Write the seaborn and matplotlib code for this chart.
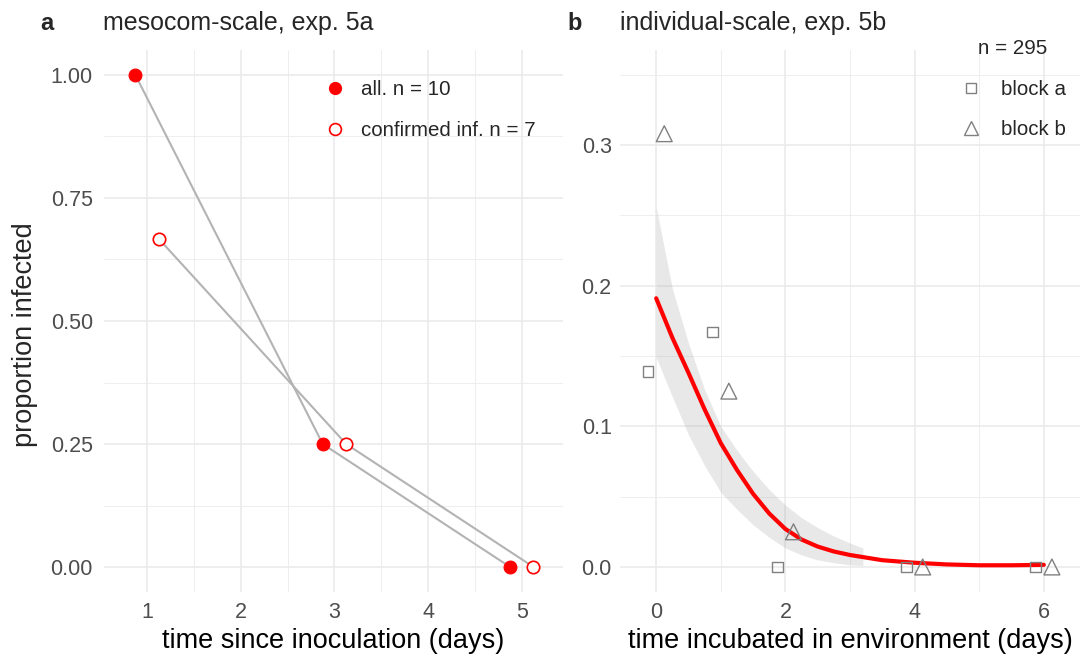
import pandas as pd
import seaborn as sns
import matplotlib.pyplot as plt
from matplotlib.lines import Line2D
from matplotlib.ticker import MultipleLocator

sns.set_theme(style="whitegrid")
plt.rcParams['font.family'] = ['Liberation Sans', 'DejaVu Sans']

######################## data, panel a ########################
days_a = [1, 3, 5]
prop_all = [1.0, 0.25, 0.0]
prop_conf = [0.667, 0.25, 0.0]
labels_a = ["all. n = 10", "confirmed inf. n = 7"]

######################## data, panel b ########################
days_b = [0, 1, 2, 4, 6]
prop_block_a = [0.139, 0.167, 0.0, 0.0, 0.0]
prop_block_b = [0.308, 0.125, 0.025, 0.0, 0.0]
labels_b = ["block a", "block b"]

# fitted curve and its confidence band
fit_x = [0, 0.25, 0.5, 0.75, 1, 1.25, 1.5, 1.75, 2, 2.25, 2.5, 2.75, 3, 3.5, 4, 4.5, 5, 5.5, 6]
fit_y = [0.191, 0.163, 0.138, 0.112, 0.088, 0.069, 0.052, 0.038, 0.027, 0.0195, 0.0145, 0.011,
         0.0085, 0.0048, 0.003, 0.0018, 0.0012, 0.0012, 0.0015]
band_x = [0, 0.25, 0.5, 0.75, 1, 1.25, 1.5, 1.75, 2, 2.25, 2.5, 2.75, 3, 3.2]
band_lo = [0.149, 0.121, 0.094, 0.072, 0.053, 0.041, 0.030, 0.021, 0.0135, 0.0085, 0.005, 0.003,
           0.0015, 0.001]
band_hi = [0.256, 0.198, 0.159, 0.126, 0.100, 0.083, 0.068, 0.055, 0.044, 0.035, 0.028, 0.022,
           0.017, 0.0135]

dodge = 0.125
RED = "#ff0000"
GREY_PT = "#808080"

df_a = pd.DataFrame({
    "day": [d - dodge for d in days_a] + [d + dodge for d in days_a],
    "prop": prop_all + prop_conf,
    "group": [labels_a[0]] * 3 + [labels_a[1]] * 3,
})
df_b = pd.DataFrame({
    "day": [d - dodge for d in days_b] + [d + dodge for d in days_b],
    "prop": prop_block_a + prop_block_b,
    "block": [labels_b[0]] * 5 + [labels_b[1]] * 5,
})
df_fit = pd.DataFrame({"day": fit_x, "fit": fit_y})

W, H = 1080, 658
fig = plt.figure(figsize=(W / 100, H / 100), dpi=100)
fig.patch.set_facecolor("white")


def px_axes(x0, y0, x1, y1):
    return fig.add_axes([x0 / W, 1 - y1 / H, (x1 - x0) / W, (y1 - y0) / H])


def style_axes(ax):
    ax.set_facecolor("white")
    for s in ax.spines.values():
        s.set_visible(False)
    ax.grid(True, which="major", color="#ebebeb", linewidth=1.2)
    ax.grid(True, which="minor", color="#ebebeb", linewidth=0.6)
    ax.tick_params(which="both", length=0, labelsize=15.5, labelcolor="#4d4d4d")
    ax.set_axisbelow(True)


ax1 = px_axes(104, 50, 563, 592)
ax2 = px_axes(620, 50, 1080, 592)

######################## panel a ########################
style_axes(ax1)
sns.lineplot(data=df_a, x="day", y="prop", units="group", estimator=None,
             color="#b3b3b3", linewidth=1.5, ax=ax1, zorder=2)
sns.scatterplot(data=df_a[df_a.group == labels_a[0]], x="day", y="prop", ax=ax1,
                color=RED, edgecolor=RED, s=85, linewidth=0.8, zorder=3)
sns.scatterplot(data=df_a[df_a.group == labels_a[1]], x="day", y="prop", ax=ax1,
                marker="o", facecolors="white", edgecolor=RED, s=80, linewidth=1.2, zorder=3)
ax1.set_xlim(0.54, 5.44)
ax1.set_ylim(-0.0508, 1.0508)
ax1.xaxis.set_major_locator(MultipleLocator(1))
ax1.xaxis.set_minor_locator(MultipleLocator(0.5))
ax1.yaxis.set_major_locator(MultipleLocator(0.25))
ax1.yaxis.set_minor_locator(MultipleLocator(0.125))
ax1.yaxis.set_major_formatter(plt.FormatStrFormatter("%.2f"))
ax1.tick_params(axis="y", pad=8)
ax1.tick_params(axis="x", pad=7)
ax1.set_xlabel("time since inoculation (days)", fontsize=19.5, color="black", labelpad=4)
ax1.set_ylabel("")
h_a = [Line2D([], [], marker="o", linestyle="none", markersize=8.5, color=RED),
       Line2D([], [], marker="o", linestyle="none", markersize=8.5, markerfacecolor="white",
              markeredgecolor=RED, markeredgewidth=1.2)]
ax1.legend(h_a, labels_a, frameon=False, fontsize=14.8, loc="upper left",
           bbox_to_anchor=(312 / W, 1 - 70 / H), bbox_transform=fig.transFigure,
           handletextpad=0.7, labelspacing=1.05, handlelength=1.2, borderpad=0)

######################## panel b ########################
style_axes(ax2)
ax2.fill_between(band_x, band_lo, band_hi, color="#999999", alpha=0.22, linewidth=0, zorder=1)
sns.lineplot(data=df_fit, x="day", y="fit", color=RED, linewidth=3, ax=ax2, zorder=2)
sns.scatterplot(data=df_b[df_b.block == labels_b[0]], x="day", y="prop", ax=ax2,
                marker="s", facecolors="none", edgecolor=GREY_PT, s=60, linewidth=1.0, zorder=3)
sns.scatterplot(data=df_b[df_b.block == labels_b[1]], x="day", y="prop", ax=ax2,
                marker="^", facecolors="none", edgecolor=GREY_PT, s=130, linewidth=1.0, zorder=3)
ax2.set_xlim(-0.56, 6.56)
ax2.set_ylim(-0.0178, 0.3675)
ax2.xaxis.set_major_locator(MultipleLocator(2))
ax2.xaxis.set_minor_locator(MultipleLocator(1))
ax2.yaxis.set_major_locator(MultipleLocator(0.1))
ax2.yaxis.set_minor_locator(MultipleLocator(0.05))
ax2.yaxis.set_major_formatter(plt.FormatStrFormatter("%.1f"))
ax2.tick_params(axis="y", pad=6)
ax2.tick_params(axis="x", pad=7)
ax2.set_xlabel("time incubated in environment (days)", fontsize=19.5, color="black", labelpad=4)
ax2.set_ylabel("")
h_b = [Line2D([], [], marker="s", linestyle="none", markersize=6.5, markerfacecolor="none",
              markeredgecolor=GREY_PT, markeredgewidth=1.0),
       Line2D([], [], marker="^", linestyle="none", markersize=9.5, markerfacecolor="none",
              markeredgecolor=GREY_PT, markeredgewidth=1.0)]
ax2.legend(h_b, labels_b, title="n = 295", frameon=False, fontsize=14.8,
           title_fontsize=14.8, loc="upper left",
           bbox_to_anchor=(948 / W, 1 - 29 / H), bbox_transform=fig.transFigure,
           handletextpad=0.9, labelspacing=1.05, handlelength=1.2, borderpad=0)

######################## titles / labels ########################
fig.text(25 / W, 1 - 335 / H, "proportion infected", rotation=90, fontsize=19.5,
         ha="center", va="center")
fig.text(40 / W, 1 - 30 / H, "a", fontsize=17, fontweight="bold", va="baseline")
fig.text(103 / W, 1 - 30 / H, "mesocom-scale, exp. 5a", fontsize=18, va="baseline")
fig.text(567 / W, 1 - 30 / H, "b", fontsize=17, fontweight="bold", va="baseline")
fig.text(620 / W, 1 - 30 / H, "individual-scale, exp. 5b", fontsize=18, va="baseline")

fig.savefig("out.png", dpi=100, facecolor="white")
